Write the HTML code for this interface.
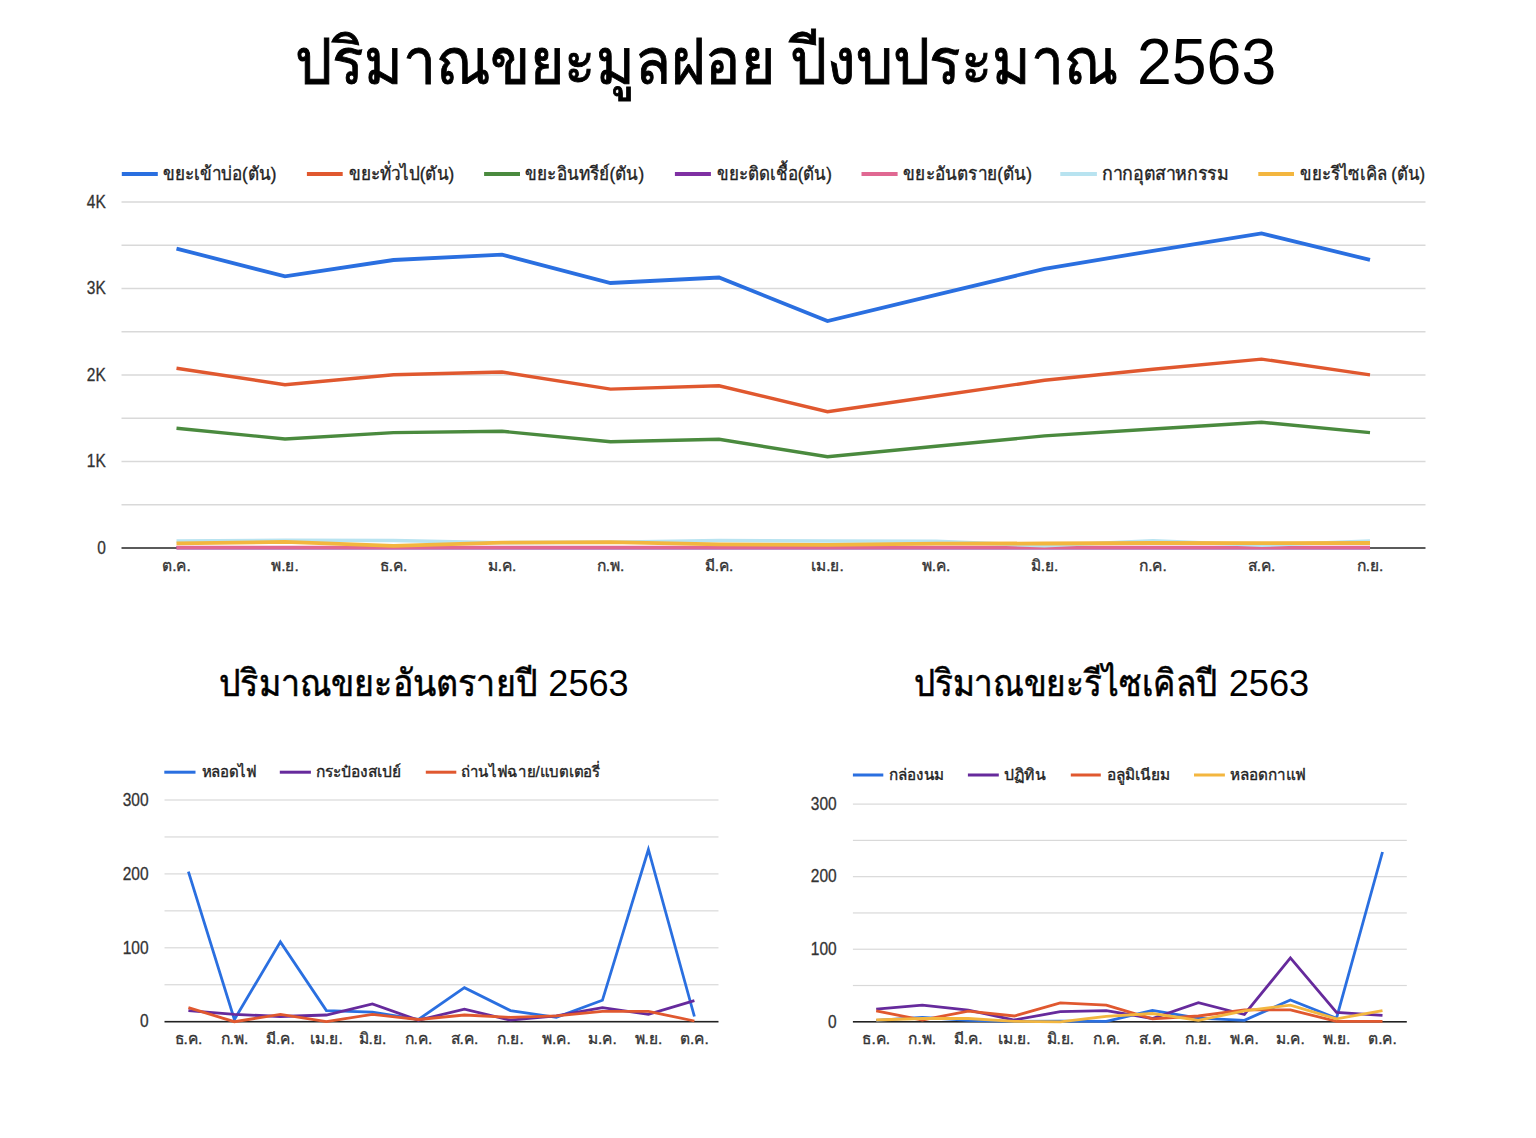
<!DOCTYPE html><html><head><meta charset="utf-8"><style>html,body{margin:0;padding:0;background:#fff;width:1536px;height:1138px;overflow:hidden}svg{display:block}text{font-family:"Liberation Sans",sans-serif}</style></head><body>
<svg width="1536" height="1138" viewBox="0 0 1536 1138">
<text x="295.40" y="83.8" font-size="65" fill="#000" text-anchor="start" stroke="#000" stroke-width="0.9" id="title_a" font-weight="normal" textLength="479.68" lengthAdjust="spacingAndGlyphs">ปริมาณขยะมูลฝอย</text>
<text x="789.90" y="83.8" font-size="65" fill="#000" text-anchor="start" stroke="#000" stroke-width="0.9" id="title_b" font-weight="normal" textLength="327.75" lengthAdjust="spacingAndGlyphs">ปีงบประมาณ</text>
<text x="1137.00" y="83.8" font-size="64" fill="#000" text-anchor="start" id="title_c" font-weight="normal" textLength="139.19" lengthAdjust="spacingAndGlyphs">2563</text>
<rect x="121.50" y="504.00" width="1304.00" height="1.50" fill="#d9d9d9"/>
<rect x="121.50" y="460.75" width="1304.00" height="1.50" fill="#d9d9d9"/>
<rect x="121.50" y="417.50" width="1304.00" height="1.50" fill="#d9d9d9"/>
<rect x="121.50" y="374.25" width="1304.00" height="1.50" fill="#d9d9d9"/>
<rect x="121.50" y="331.00" width="1304.00" height="1.50" fill="#d9d9d9"/>
<rect x="121.50" y="287.75" width="1304.00" height="1.50" fill="#d9d9d9"/>
<rect x="121.50" y="244.50" width="1304.00" height="1.50" fill="#d9d9d9"/>
<rect x="121.50" y="201.25" width="1304.00" height="1.50" fill="#d9d9d9"/>
<text transform="translate(105.80,553.70) scale(0.885,1)" font-size="17.5" fill="#333333" text-anchor="end" stroke="#333333" stroke-width="0.3">0</text>
<text transform="translate(105.80,467.20) scale(0.885,1)" font-size="17.5" fill="#333333" text-anchor="end" stroke="#333333" stroke-width="0.3">1K</text>
<text transform="translate(105.80,380.70) scale(0.885,1)" font-size="17.5" fill="#333333" text-anchor="end" stroke="#333333" stroke-width="0.3">2K</text>
<text transform="translate(105.80,294.20) scale(0.885,1)" font-size="17.5" fill="#333333" text-anchor="end" stroke="#333333" stroke-width="0.3">3K</text>
<text transform="translate(105.80,207.70) scale(0.885,1)" font-size="17.5" fill="#333333" text-anchor="end" stroke="#333333" stroke-width="0.3">4K</text>
<rect x="121.50" y="547.20" width="1304.00" height="1.60" fill="#333333"/>
<polyline points="176.5,248.6 285.0,276.4 393.5,260.0 502.0,254.7 610.5,283.0 719.0,277.5 827.5,321.0 936.0,294.9 1044.5,268.8 1153.0,250.8 1261.5,233.4 1370.0,259.9" fill="none" stroke="#2a6fe0" stroke-width="3.8" stroke-linejoin="miter" stroke-miterlimit="4"/>
<polyline points="176.5,368.3 285.0,384.7 393.5,374.8 502.0,372.0 610.5,389.1 719.0,385.8 827.5,411.7 936.0,396.0 1044.5,380.3 1153.0,369.3 1261.5,359.1 1370.0,374.9" fill="none" stroke="#e0582f" stroke-width="3.4" stroke-linejoin="miter" stroke-miterlimit="4"/>
<polyline points="176.5,428.2 285.0,439.0 393.5,432.6 502.0,431.3 610.5,441.8 719.0,439.2 827.5,456.8 936.0,446.3 1044.5,435.9 1153.0,429.0 1261.5,422.2 1370.0,432.6" fill="none" stroke="#4a8a3e" stroke-width="3.4" stroke-linejoin="miter" stroke-miterlimit="4"/>
<polyline points="176.5,547.8 285.0,547.8 393.5,547.8 502.0,547.8 610.5,547.8 719.0,547.8 827.5,547.8 936.0,547.8 1044.5,547.8 1153.0,547.8 1261.5,547.8 1370.0,547.8" fill="none" stroke="#7f30a3" stroke-width="3.4" stroke-linejoin="miter" stroke-miterlimit="4"/>
<polyline points="176.5,547.4 285.0,547.4 393.5,547.4 502.0,547.4 610.5,547.4 719.0,547.4 827.5,547.4 936.0,547.4 1044.5,547.4 1153.0,547.4 1261.5,547.4 1370.0,547.4" fill="none" stroke="#e06892" stroke-width="3.5" stroke-linejoin="miter" stroke-miterlimit="4"/>
<polyline points="176.5,541.0 285.0,540.3 393.5,540.5 502.0,542.7 610.5,542.2 719.0,540.5 827.5,541.0 936.0,541.2 1044.5,545.8 1153.0,540.8 1261.5,545.3 1370.0,541.0" fill="none" stroke="#b8e3f0" stroke-width="3.6" stroke-linejoin="miter" stroke-miterlimit="4"/>
<polyline points="176.5,543.4 285.0,541.9 393.5,545.9 502.0,542.7 610.5,542.2 719.0,544.4 827.5,544.9 936.0,543.6 1044.5,543.5 1153.0,543.0 1261.5,543.2 1370.0,543.0" fill="none" stroke="#f3b63f" stroke-width="3.8" stroke-linejoin="miter" stroke-miterlimit="4"/>
<text x="176.5" y="571.4" font-size="15.5" fill="#333333" text-anchor="middle" stroke="#333333" stroke-width="0.35" >ต.ค.</text>
<text x="285.0" y="571.4" font-size="15.5" fill="#333333" text-anchor="middle" stroke="#333333" stroke-width="0.35" >พ.ย.</text>
<text x="393.5" y="571.4" font-size="15.5" fill="#333333" text-anchor="middle" stroke="#333333" stroke-width="0.35" >ธ.ค.</text>
<text x="502.0" y="571.4" font-size="15.5" fill="#333333" text-anchor="middle" stroke="#333333" stroke-width="0.35" >ม.ค.</text>
<text x="610.5" y="571.4" font-size="15.5" fill="#333333" text-anchor="middle" stroke="#333333" stroke-width="0.35" >ก.พ.</text>
<text x="719.0" y="571.4" font-size="15.5" fill="#333333" text-anchor="middle" stroke="#333333" stroke-width="0.35" >มี.ค.</text>
<text x="827.5" y="571.4" font-size="15.5" fill="#333333" text-anchor="middle" stroke="#333333" stroke-width="0.35" >เม.ย.</text>
<text x="936.0" y="571.4" font-size="15.5" fill="#333333" text-anchor="middle" stroke="#333333" stroke-width="0.35" >พ.ค.</text>
<text x="1044.5" y="571.4" font-size="15.5" fill="#333333" text-anchor="middle" stroke="#333333" stroke-width="0.35" >มิ.ย.</text>
<text x="1153.0" y="571.4" font-size="15.5" fill="#333333" text-anchor="middle" stroke="#333333" stroke-width="0.35" >ก.ค.</text>
<text x="1261.5" y="571.4" font-size="15.5" fill="#333333" text-anchor="middle" stroke="#333333" stroke-width="0.35" >ส.ค.</text>
<text x="1370.0" y="571.4" font-size="15.5" fill="#333333" text-anchor="middle" stroke="#333333" stroke-width="0.35" >ก.ย.</text>
<rect x="121.80" y="172.00" width="36.00" height="4.00" fill="#2a6fe0"/>
<text x="162.60" y="180" font-size="18.5" fill="#222" text-anchor="start" stroke="#222" stroke-width="0.35" id="leg1_0" font-weight="normal" textLength="113.88" lengthAdjust="spacingAndGlyphs">ขยะเข้าบ่อ(ตัน)</text>
<rect x="306.90" y="172.00" width="35.80" height="4.00" fill="#e0582f"/>
<text x="348.60" y="180" font-size="18.5" fill="#222" text-anchor="start" stroke="#222" stroke-width="0.35" id="leg1_1" font-weight="normal" textLength="105.69" lengthAdjust="spacingAndGlyphs">ขยะทั่วไป(ตัน)</text>
<rect x="484.10" y="172.00" width="35.90" height="4.00" fill="#4a8a3e"/>
<text x="525.20" y="180" font-size="18.5" fill="#222" text-anchor="start" stroke="#222" stroke-width="0.35" id="leg1_2" font-weight="normal" textLength="118.97" lengthAdjust="spacingAndGlyphs">ขยะอินทรีย์(ตัน)</text>
<rect x="674.90" y="172.00" width="36.00" height="4.00" fill="#7f30a3"/>
<text x="717.00" y="180" font-size="18.5" fill="#222" text-anchor="start" stroke="#222" stroke-width="0.35" id="leg1_3" font-weight="normal" textLength="114.84" lengthAdjust="spacingAndGlyphs">ขยะติดเชื้อ(ตัน)</text>
<rect x="861.50" y="172.00" width="36.10" height="4.00" fill="#e06892"/>
<text x="903.40" y="180" font-size="18.5" fill="#222" text-anchor="start" stroke="#222" stroke-width="0.35" id="leg1_4" font-weight="normal" textLength="128.48" lengthAdjust="spacingAndGlyphs">ขยะอันตราย(ตัน)</text>
<rect x="1060.30" y="172.00" width="36.60" height="4.00" fill="#b8e3f0"/>
<text x="1102.20" y="180" font-size="18.5" fill="#222" text-anchor="start" stroke="#222" stroke-width="0.35" id="leg1_5" font-weight="normal" textLength="126.14" lengthAdjust="spacingAndGlyphs">กากอุตสาหกรรม</text>
<rect x="1258.30" y="172.00" width="35.70" height="4.00" fill="#f3b63f"/>
<text x="1300.40" y="180" font-size="18.5" fill="#222" text-anchor="start" stroke="#222" stroke-width="0.35" id="leg1_6" font-weight="normal" textLength="124.65" lengthAdjust="spacingAndGlyphs">ขยะรีไซเคิล (ตัน)</text>
<rect x="164.50" y="984.15" width="554.00" height="1.20" fill="#d9d9d9"/>
<rect x="164.50" y="947.20" width="554.00" height="1.20" fill="#d9d9d9"/>
<rect x="164.50" y="910.25" width="554.00" height="1.20" fill="#d9d9d9"/>
<rect x="164.50" y="873.30" width="554.00" height="1.20" fill="#d9d9d9"/>
<rect x="164.50" y="836.35" width="554.00" height="1.20" fill="#d9d9d9"/>
<rect x="164.50" y="799.40" width="554.00" height="1.20" fill="#d9d9d9"/>
<text transform="translate(148.50,1027.40) scale(0.885,1)" font-size="17.5" fill="#333333" text-anchor="end" stroke="#333333" stroke-width="0.3">0</text>
<text transform="translate(148.50,953.50) scale(0.885,1)" font-size="17.5" fill="#333333" text-anchor="end" stroke="#333333" stroke-width="0.3">100</text>
<text transform="translate(148.50,879.60) scale(0.885,1)" font-size="17.5" fill="#333333" text-anchor="end" stroke="#333333" stroke-width="0.3">200</text>
<text transform="translate(148.50,805.70) scale(0.885,1)" font-size="17.5" fill="#333333" text-anchor="end" stroke="#333333" stroke-width="0.3">300</text>
<rect x="164.50" y="1020.90" width="554.00" height="1.60" fill="#222"/>
<polyline points="188.4,871.7 234.4,1019.5 280.4,941.9 326.4,1010.6 372.4,1012.1 418.4,1019.5 464.4,987.7 510.4,1010.6 556.4,1017.3 602.4,1000.3 648.4,849.5 694.4,1016.5" fill="none" stroke="#2a6fe0" stroke-width="2.8" stroke-linejoin="miter" stroke-miterlimit="4"/>
<polyline points="188.4,1010.6 234.4,1014.3 280.4,1016.5 326.4,1015.0 372.4,1004.0 418.4,1020.2 464.4,1009.1 510.4,1020.2 556.4,1015.8 602.4,1007.7 648.4,1014.3 694.4,1000.6" fill="none" stroke="#662a9c" stroke-width="2.8" stroke-linejoin="miter" stroke-miterlimit="4"/>
<polyline points="188.4,1007.7 234.4,1021.7 280.4,1014.3 326.4,1021.7 372.4,1014.3 418.4,1019.5 464.4,1015.0 510.4,1017.3 556.4,1015.8 602.4,1011.4 648.4,1011.4 694.4,1021.0" fill="none" stroke="#e0582f" stroke-width="2.8" stroke-linejoin="miter" stroke-miterlimit="4"/>
<text x="188.4" y="1044.3" font-size="15.5" fill="#333333" text-anchor="middle" stroke="#333333" stroke-width="0.35" >ธ.ค.</text>
<text x="234.4" y="1044.3" font-size="15.5" fill="#333333" text-anchor="middle" stroke="#333333" stroke-width="0.35" >ก.พ.</text>
<text x="280.4" y="1044.3" font-size="15.5" fill="#333333" text-anchor="middle" stroke="#333333" stroke-width="0.35" >มี.ค.</text>
<text x="326.4" y="1044.3" font-size="15.5" fill="#333333" text-anchor="middle" stroke="#333333" stroke-width="0.35" >เม.ย.</text>
<text x="372.4" y="1044.3" font-size="15.5" fill="#333333" text-anchor="middle" stroke="#333333" stroke-width="0.35" >มิ.ย.</text>
<text x="418.4" y="1044.3" font-size="15.5" fill="#333333" text-anchor="middle" stroke="#333333" stroke-width="0.35" >ก.ค.</text>
<text x="464.4" y="1044.3" font-size="15.5" fill="#333333" text-anchor="middle" stroke="#333333" stroke-width="0.35" >ส.ค.</text>
<text x="510.4" y="1044.3" font-size="15.5" fill="#333333" text-anchor="middle" stroke="#333333" stroke-width="0.35" >ก.ย.</text>
<text x="556.4" y="1044.3" font-size="15.5" fill="#333333" text-anchor="middle" stroke="#333333" stroke-width="0.35" >พ.ค.</text>
<text x="602.4" y="1044.3" font-size="15.5" fill="#333333" text-anchor="middle" stroke="#333333" stroke-width="0.35" >ม.ค.</text>
<text x="648.4" y="1044.3" font-size="15.5" fill="#333333" text-anchor="middle" stroke="#333333" stroke-width="0.35" >พ.ย.</text>
<text x="694.4" y="1044.3" font-size="15.5" fill="#333333" text-anchor="middle" stroke="#333333" stroke-width="0.35" >ต.ค.</text>
<rect x="164.30" y="770.70" width="31.20" height="3.00" fill="#2a6fe0"/>
<text x="201.60" y="777.2" font-size="15.5" fill="#222" text-anchor="start" stroke="#222" stroke-width="0.35" id="leg2_0" font-weight="normal" textLength="55.17" lengthAdjust="spacingAndGlyphs">หลอดไฟ</text>
<rect x="279.80" y="770.70" width="31.10" height="3.00" fill="#662a9c"/>
<text x="316.00" y="777.2" font-size="15.5" fill="#222" text-anchor="start" stroke="#222" stroke-width="0.35" id="leg2_1" font-weight="normal" textLength="85.16" lengthAdjust="spacingAndGlyphs">กระป๋องสเปย์</text>
<rect x="425.80" y="770.70" width="30.50" height="3.00" fill="#e0582f"/>
<text x="461.00" y="777.2" font-size="15.5" fill="#222" text-anchor="start" stroke="#222" stroke-width="0.35" id="leg2_2" font-weight="normal" textLength="138.79" lengthAdjust="spacingAndGlyphs">ถ่านไฟฉาย/แบตเตอรี่</text>
<text x="219.40" y="695.5" font-size="37" fill="#000" text-anchor="start" stroke="#000" stroke-width="0.55" id="title2" font-weight="normal" textLength="317.48" lengthAdjust="spacingAndGlyphs">ปริมาณขยะอันตรายปี</text>
<text x="548.30" y="695.5" font-size="37" fill="#000" text-anchor="start" id="title2b" font-weight="normal" textLength="80.42" lengthAdjust="spacingAndGlyphs">2563</text>
<rect x="852.90" y="984.92" width="553.90" height="1.20" fill="#d9d9d9"/>
<rect x="852.90" y="948.63" width="553.90" height="1.20" fill="#d9d9d9"/>
<rect x="852.90" y="912.35" width="553.90" height="1.20" fill="#d9d9d9"/>
<rect x="852.90" y="876.07" width="553.90" height="1.20" fill="#d9d9d9"/>
<rect x="852.90" y="839.78" width="553.90" height="1.20" fill="#d9d9d9"/>
<rect x="852.90" y="803.50" width="553.90" height="1.20" fill="#d9d9d9"/>
<text transform="translate(836.70,1027.50) scale(0.885,1)" font-size="17.5" fill="#333333" text-anchor="end" stroke="#333333" stroke-width="0.3">0</text>
<text transform="translate(836.70,954.93) scale(0.885,1)" font-size="17.5" fill="#333333" text-anchor="end" stroke="#333333" stroke-width="0.3">100</text>
<text transform="translate(836.70,882.37) scale(0.885,1)" font-size="17.5" fill="#333333" text-anchor="end" stroke="#333333" stroke-width="0.3">200</text>
<text transform="translate(836.70,809.80) scale(0.885,1)" font-size="17.5" fill="#333333" text-anchor="end" stroke="#333333" stroke-width="0.3">300</text>
<rect x="852.90" y="1021.00" width="553.90" height="1.60" fill="#222"/>
<polyline points="876.2,1020.3 922.3,1017.4 968.3,1020.3 1014.3,1021.4 1060.3,1021.1 1106.3,1021.4 1152.4,1010.4 1198.4,1018.2 1244.4,1020.3 1290.4,1000.0 1336.5,1018.2 1382.5,852.0" fill="none" stroke="#2a6fe0" stroke-width="2.8" stroke-linejoin="miter" stroke-miterlimit="4"/>
<polyline points="876.2,1009.1 922.3,1005.1 968.3,1010.2 1014.3,1020.0 1060.3,1011.6 1106.3,1010.6 1152.4,1018.5 1198.4,1002.6 1244.4,1014.5 1290.4,957.9 1336.5,1012.4 1382.5,1015.3" fill="none" stroke="#662a9c" stroke-width="2.8" stroke-linejoin="miter" stroke-miterlimit="4"/>
<polyline points="876.2,1010.9 922.3,1020.0 968.3,1011.1 1014.3,1016.0 1060.3,1002.9 1106.3,1005.1 1152.4,1018.9 1198.4,1016.0 1244.4,1009.8 1290.4,1009.8 1336.5,1021.4 1382.5,1021.4" fill="none" stroke="#e0582f" stroke-width="2.8" stroke-linejoin="miter" stroke-miterlimit="4"/>
<polyline points="876.2,1020.0 922.3,1018.5 968.3,1018.5 1014.3,1021.4 1060.3,1021.8 1106.3,1016.3 1152.4,1013.5 1198.4,1020.3 1244.4,1010.9 1290.4,1005.1 1336.5,1018.9 1382.5,1010.6" fill="none" stroke="#f3b63f" stroke-width="2.8" stroke-linejoin="miter" stroke-miterlimit="4"/>
<text x="876.25" y="1044.3999999999999" font-size="15.5" fill="#333333" text-anchor="middle" stroke="#333333" stroke-width="0.35" >ธ.ค.</text>
<text x="922.27" y="1044.3999999999999" font-size="15.5" fill="#333333" text-anchor="middle" stroke="#333333" stroke-width="0.35" >ก.พ.</text>
<text x="968.29" y="1044.3999999999999" font-size="15.5" fill="#333333" text-anchor="middle" stroke="#333333" stroke-width="0.35" >มี.ค.</text>
<text x="1014.31" y="1044.3999999999999" font-size="15.5" fill="#333333" text-anchor="middle" stroke="#333333" stroke-width="0.35" >เม.ย.</text>
<text x="1060.33" y="1044.3999999999999" font-size="15.5" fill="#333333" text-anchor="middle" stroke="#333333" stroke-width="0.35" >มิ.ย.</text>
<text x="1106.35" y="1044.3999999999999" font-size="15.5" fill="#333333" text-anchor="middle" stroke="#333333" stroke-width="0.35" >ก.ค.</text>
<text x="1152.37" y="1044.3999999999999" font-size="15.5" fill="#333333" text-anchor="middle" stroke="#333333" stroke-width="0.35" >ส.ค.</text>
<text x="1198.39" y="1044.3999999999999" font-size="15.5" fill="#333333" text-anchor="middle" stroke="#333333" stroke-width="0.35" >ก.ย.</text>
<text x="1244.41" y="1044.3999999999999" font-size="15.5" fill="#333333" text-anchor="middle" stroke="#333333" stroke-width="0.35" >พ.ค.</text>
<text x="1290.43" y="1044.3999999999999" font-size="15.5" fill="#333333" text-anchor="middle" stroke="#333333" stroke-width="0.35" >ม.ค.</text>
<text x="1336.45" y="1044.3999999999999" font-size="15.5" fill="#333333" text-anchor="middle" stroke="#333333" stroke-width="0.35" >พ.ย.</text>
<text x="1382.47" y="1044.3999999999999" font-size="15.5" fill="#333333" text-anchor="middle" stroke="#333333" stroke-width="0.35" >ต.ค.</text>
<rect x="852.90" y="773.50" width="30.40" height="3.00" fill="#2a6fe0"/>
<text x="889.20" y="780.2" font-size="15.5" fill="#222" text-anchor="start" stroke="#222" stroke-width="0.35" id="leg3_0" font-weight="normal" textLength="54.97" lengthAdjust="spacingAndGlyphs">กล่องนม</text>
<rect x="967.90" y="773.50" width="30.90" height="3.00" fill="#662a9c"/>
<text x="1004.20" y="780.2" font-size="15.5" fill="#222" text-anchor="start" stroke="#222" stroke-width="0.35" id="leg3_1" font-weight="normal" textLength="41.64" lengthAdjust="spacingAndGlyphs">ปฏิทิน</text>
<rect x="1070.80" y="773.50" width="30.00" height="3.00" fill="#e0582f"/>
<text x="1107.40" y="780.2" font-size="15.5" fill="#222" text-anchor="start" stroke="#222" stroke-width="0.35" id="leg3_2" font-weight="normal" textLength="62.69" lengthAdjust="spacingAndGlyphs">อลูมิเนียม</text>
<rect x="1194.00" y="773.50" width="30.90" height="3.00" fill="#f3b63f"/>
<text x="1230.40" y="780.2" font-size="15.5" fill="#222" text-anchor="start" stroke="#222" stroke-width="0.35" id="leg3_3" font-weight="normal" textLength="75.90" lengthAdjust="spacingAndGlyphs">หลอดกาแฟ</text>
<text x="913.80" y="695.5" font-size="37" fill="#000" text-anchor="start" stroke="#000" stroke-width="0.55" id="title3" font-weight="normal" textLength="303.36" lengthAdjust="spacingAndGlyphs">ปริมาณขยะรีไซเคิลปี</text>
<text x="1228.70" y="695.5" font-size="37" fill="#000" text-anchor="start" id="title3b" font-weight="normal" textLength="80.48" lengthAdjust="spacingAndGlyphs">2563</text>
</svg></body></html>
